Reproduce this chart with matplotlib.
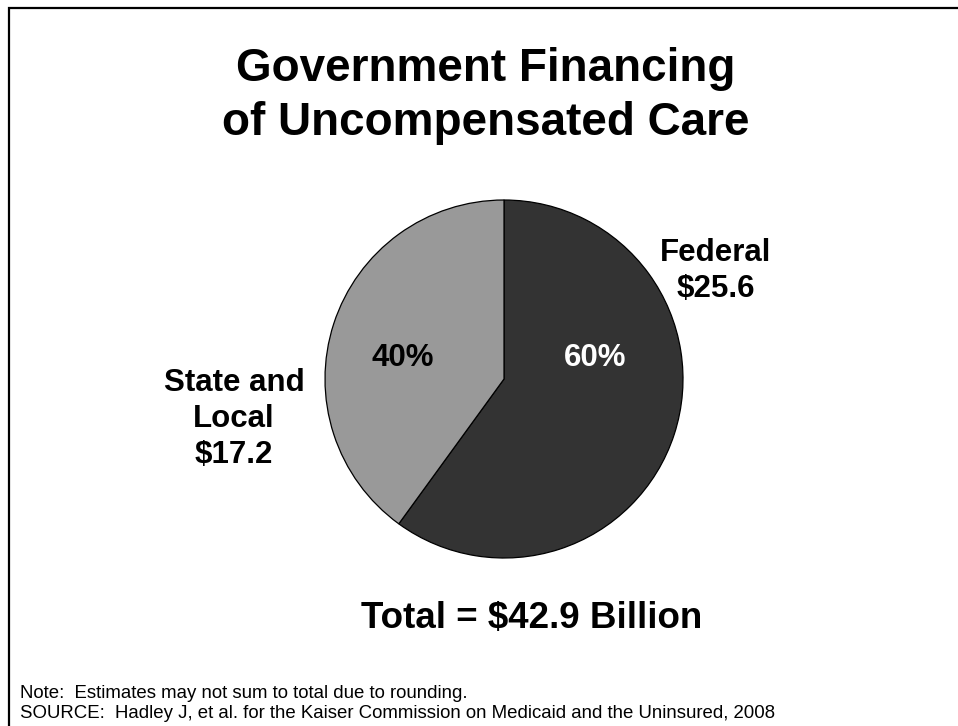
import matplotlib
matplotlib.use("Agg")
import matplotlib.pyplot as plt
from matplotlib.patches import Rectangle

# Data (billions of dollars)
categories = ["Federal", "State and\nLocal"]
amounts = [25.6, 17.2]
shares = [60, 40]
total = 42.9
colors = ["#333333", "#999999"]

W, H = 958, 726
DPI = 100
FONT = "Liberation Sans"

fig = plt.figure(figsize=(W / DPI, H / DPI), dpi=DPI)
fig.patch.set_facecolor("white")


def px(x, y):
    """Convert top-left pixel coordinates to figure fraction."""
    return x / W, 1 - y / H


# Frame around the slide (runs off the right and bottom edges)
fig.add_artist(Rectangle((9 / W, -0.05), 1.1, 1 - 8 / H + 0.05,
                         transform=fig.transFigure, fill=False,
                         edgecolor="black", linewidth=1.6))

# Pie chart
cx, cy, r = 504, 379, 179
pad = 1.02
ax = fig.add_axes([(cx - r * pad) / W, (H - cy - r * pad) / H,
                   2 * r * pad / W, 2 * r * pad / H])
ax.pie(shares, colors=colors, startangle=90, counterclock=False,
       radius=1.0, wedgeprops=dict(edgecolor="black", linewidth=0.9))
ax.set_xlim(-pad, pad)
ax.set_ylim(-pad, pad)
ax.set_aspect("equal")
ax.axis("off")

LABEL_SIZE = 22.5

# Percentage labels inside slices
ax.text((595 - cx) / r, (cy - 358) / r, f"{shares[0]}%", color="white",
        fontsize=LABEL_SIZE, fontweight="bold", family=FONT,
        ha="center", va="center")
ax.text((403 - cx) / r, (cy - 358) / r, f"{shares[1]}%", color="black",
        fontsize=LABEL_SIZE, fontweight="bold", family=FONT,
        ha="center", va="center")

# Category labels outside the pie
fig.text(*px(716, 297), f"{categories[0]}\n${amounts[0]:.1f}",
         fontsize=LABEL_SIZE, fontweight="bold", family=FONT, ha="center",
         va="baseline", multialignment="center", linespacing=1.25)
fig.text(*px(234, 463), f"{categories[1]}\n${amounts[1]:.1f}",
         fontsize=LABEL_SIZE, fontweight="bold", family=FONT, ha="center",
         va="baseline", multialignment="center", linespacing=1.25)

# Title
fig.text(*px(486, 135), "Government Financing\nof Uncompensated Care",
         fontsize=33, fontweight="bold", family=FONT, ha="center",
         va="baseline", multialignment="center", linespacing=1.29)

# Total
fig.text(*px(532, 628), f"Total = ${total} Billion",
         fontsize=26.5, fontweight="bold", family=FONT, ha="center",
         va="baseline")

# Footnotes
fig.text(*px(20, 698), "Note:  Estimates may not sum to total due to rounding.",
         fontsize=13.4, family=FONT, ha="left", va="baseline")
fig.text(*px(20, 718),
         "SOURCE:  Hadley J, et al. for the Kaiser Commission on Medicaid and the Uninsured, 2008",
         fontsize=13.4, family=FONT, ha="left", va="baseline")

fig.savefig("out.png", dpi=DPI, facecolor="white")
